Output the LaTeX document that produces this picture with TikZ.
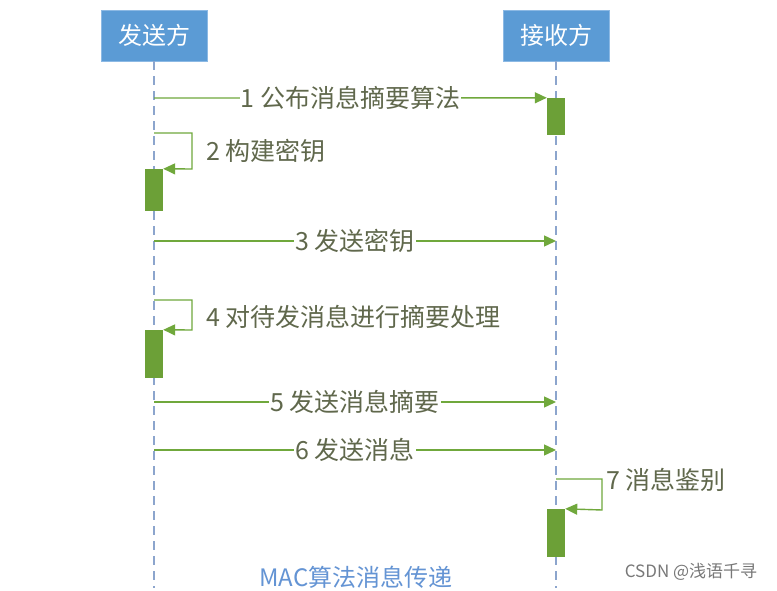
\documentclass[tikz,border=0pt]{standalone}
\usepackage{fontspec}
\setmainfont{Noto Sans CJK SC}
\usetikzlibrary{arrows.meta}
\definecolor{boxblue}{RGB}{91,155,213}
\definecolor{boxedge}{RGB}{140,185,228}
\definecolor{lifeblue}{RGB}{140,165,205}
\definecolor{msggreen}{RGB}{112,168,60}
\definecolor{actgreen}{RGB}{108,160,55}
\definecolor{labcol}{RGB}{96,104,76}
\definecolor{titleblue}{RGB}{100,148,212}
\definecolor{wmgray}{RGB}{120,120,120}
\tikzset{
  actor/.style={draw=boxedge,fill=boxblue,line width=0.8pt,minimum width=106pt,minimum height=51pt,inner sep=0pt,text=white,font=\fontsize{24}{28}\selectfont},
  lifeline/.style={draw=lifeblue,line width=1.2pt,dash pattern=on 9pt off 6pt},
  actbox/.style={fill=actgreen,draw=none,minimum width=18pt,inner sep=0pt},
  msg/.style={draw=msggreen,line width=1.4pt,-{Triangle[length=12pt,width=11pt]}},
  lab/.style={text=labcol,fill=white,inner sep=1pt,font=\fontsize{25}{29}\selectfont},
  slab/.style={lab,anchor=west,fill=none},
}
\begin{document}
\begin{tikzpicture}[x=1pt,y=-1pt]
\useasboundingbox[fill=white] (0,0) rectangle (777,591);
% actors
\node[actor] (snd) at (154,35.5) {发送方};
\node[actor] (rcv) at (556,35.5) {接收方};
\coordinate (sbot) at (154,588);
\coordinate (rbot) at (556,588);
\draw[lifeline] (snd.south) -- (sbot);
\draw[lifeline] (rcv.south) -- (rbot);
% activation boxes
\node[actbox,minimum height=37pt] (a1) at (556,116.5) {};
\node[actbox,minimum height=42pt] (a2) at (154,190) {};
\node[actbox,minimum height=48pt] (a4) at (154,354) {};
\node[actbox,minimum height=48pt] (a7) at (556,533) {};
% message start/end points
\coordinate (m1s) at (154,98);
\coordinate (m2s) at (154,133);
\coordinate (m2c) at (192,133);
\coordinate (m2d) at (192,169);
\coordinate (m3s) at (154,241);
\coordinate (m3e) at (556,241);
\coordinate (m4s) at (154,300);
\coordinate (m4c) at (192,300);
\coordinate (m4d) at (192,330);
\coordinate (m5s) at (154,402);
\coordinate (m5e) at (556,402);
\coordinate (m6s) at (154,450);
\coordinate (m6e) at (556,450);
\coordinate (m7s) at (556,479);
\coordinate (m7c) at (602,479);
\coordinate (m7d) at (602,510);
% messages
\draw[msg] (m1s) -- (a1.north west) node[lab,midway] (l1) {1 公布消息摘要算法};
\draw[msg] (m2s) -- (m2c) -- (m2d) -- (a2.north east);
\node[slab] (l2) at (205,151) {2 构建密钥};
\draw[msg] (m3s) -- (m3e) node[lab,midway] (l3) {3 发送密钥};
\draw[msg] (m4s) -- (m4c) -- (m4d) -- (a4.north east);
\node[slab] (l4) at (205,317) {4 对待发消息进行摘要处理};
\draw[msg] (m5s) -- (m5e) node[lab,midway] (l5) {5 发送消息摘要};
\draw[msg] (m6s) -- (m6e) node[lab,midway] (l6) {6 发送消息};
\draw[msg] (m7s) -- (m7c) -- (m7d) -- (a7.north east);
\node[slab] (l7) at (605,480) {7 消息鉴别};
% title and watermark
\node[text=titleblue,font=\fontsize{24}{28}\selectfont] (title) at (356,577) {MAC算法消息传递};
\node[text=wmgray,font=\fontsize{17}{20}\selectfont] (wm) at (691,572) {CSDN @浅语千寻};
\end{tikzpicture}
\end{document}
